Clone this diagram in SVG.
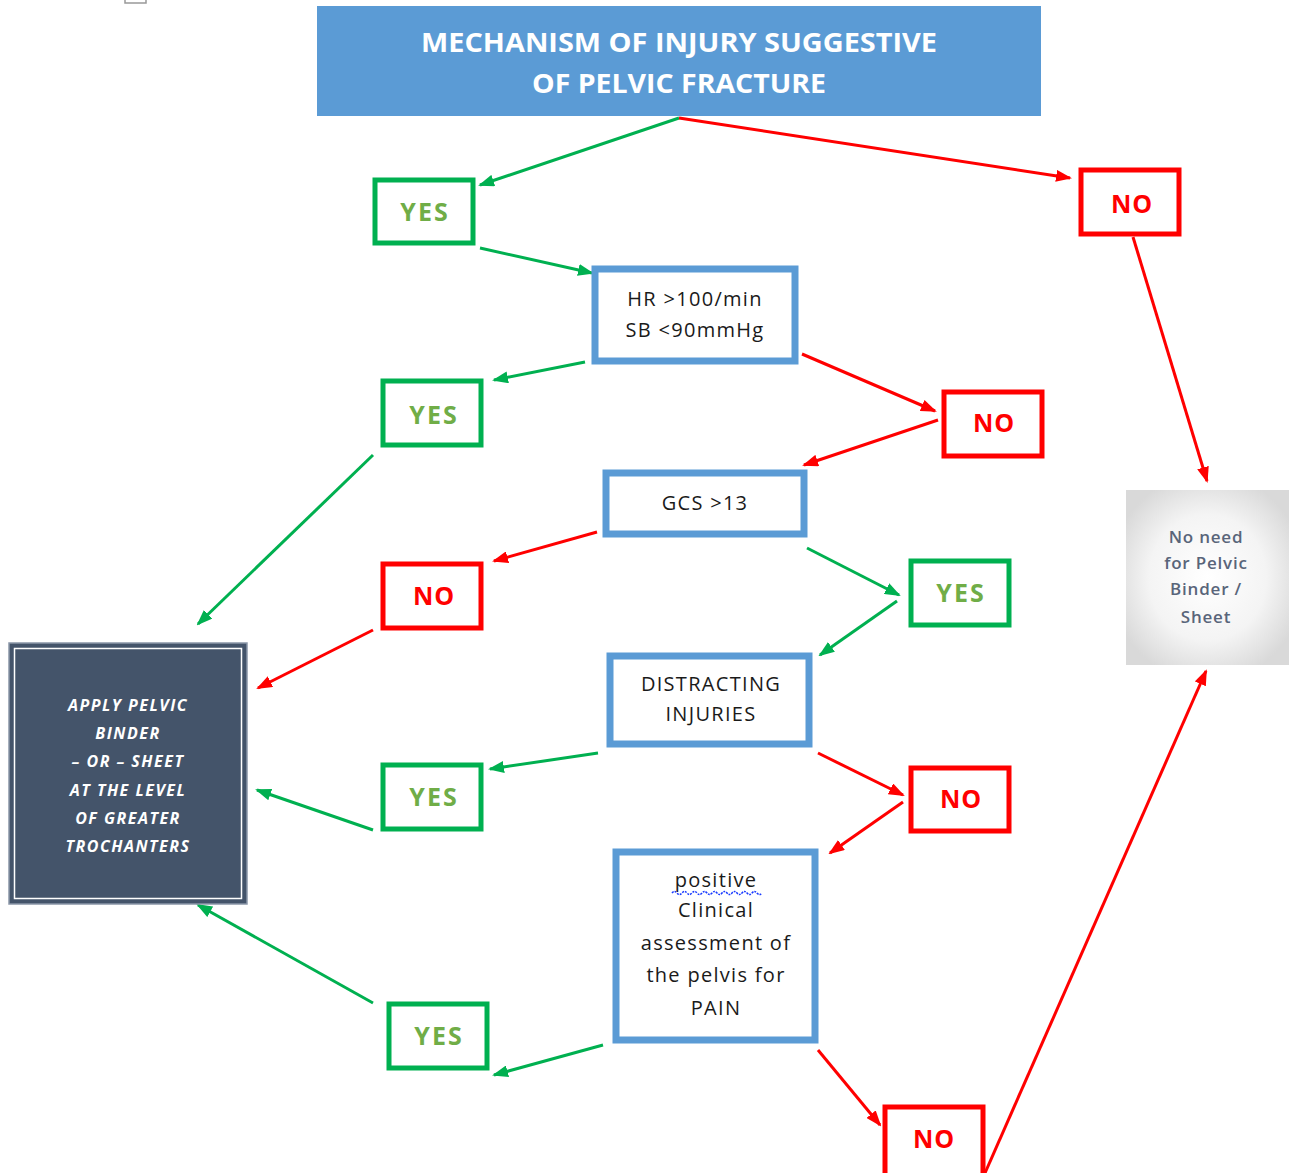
<svg xmlns="http://www.w3.org/2000/svg" width="1295" height="1173" viewBox="0 0 1295 1173">
<style>
text{font-family:"Open Sans","Liberation Sans",sans-serif;text-anchor:middle}
.title{fill:#fff;font-weight:bold;font-size:27px}
.yes rect{fill:#fff;stroke:#00B050;stroke-width:5}
.yes text{fill:#70AD47;font-weight:bold;font-size:25px;letter-spacing:2px}
.no rect{fill:#fff;stroke:#FF0000;stroke-width:5}
.no text{fill:#FF0000;font-weight:bold;font-size:25px;letter-spacing:1px}
.q rect{fill:#fff;stroke:#5B9BD5;stroke-width:7}
.q text{fill:#1a1a1a;font-size:20px;letter-spacing:1.3px}
.apply text{fill:#fff;font-weight:bold;font-style:italic;font-size:16px;letter-spacing:1.5px}
.need text{fill:#59657a;font-size:17px;font-weight:600;letter-spacing:0.8px}
.g{stroke:#00B050;stroke-width:3;fill:none;marker-end:url(#ag)}
.r{stroke:#FF0000;stroke-width:3;fill:none;marker-end:url(#ar)}
</style>
<defs>
<marker id="ag" markerWidth="16" markerHeight="12" refX="14" refY="6" orient="auto" markerUnits="userSpaceOnUse"><path d="M0,0 L16,6 L0,12 Z" fill="#00B050"/></marker>
<marker id="ar" markerWidth="16" markerHeight="12" refX="14" refY="6" orient="auto" markerUnits="userSpaceOnUse"><path d="M0,0 L16,6 L0,12 Z" fill="#FF0000"/></marker>
<radialGradient id="gg" cx="50%" cy="50%" r="60%"><stop offset="0" stop-color="#ffffff"/><stop offset="0.6" stop-color="#f4f4f4"/><stop offset="1" stop-color="#d9d9d9"/></radialGradient>
</defs>
<rect x="0" y="0" width="1295" height="1173" fill="#fff"/>
<rect x="125" y="-4" width="21" height="7" fill="none" stroke="#999" stroke-width="1.5"/>

<g id="connectors">
<line class="g" x1="679" y1="118" x2="480" y2="185"/>
<line class="r" x1="679" y1="118" x2="1070" y2="178"/>
<line class="g" x1="480" y1="248" x2="592" y2="273"/>
<line class="r" x1="1133" y1="237" x2="1207" y2="481"/>
<line class="g" x1="585" y1="362" x2="494" y2="380"/>
<line class="r" x1="802" y1="354" x2="935" y2="411"/>
<line class="g" x1="373" y1="455" x2="198" y2="624"/>
<line class="r" x1="938" y1="420" x2="804" y2="465"/>
<line class="r" x1="597" y1="532" x2="494" y2="561"/>
<line class="g" x1="807" y1="548" x2="899" y2="595"/>
<line class="r" x1="373" y1="630" x2="258" y2="688"/>
<line class="g" x1="897" y1="601" x2="820" y2="655"/>
<line class="g" x1="598" y1="753" x2="490" y2="769"/>
<line class="r" x1="818" y1="753" x2="903" y2="795"/>
<line class="g" x1="373" y1="830" x2="257" y2="790"/>
<line class="r" x1="903" y1="802" x2="830" y2="853"/>
<line class="g" x1="373" y1="1003" x2="198" y2="905"/>
<line class="g" x1="603" y1="1045" x2="494" y2="1075"/>
<line class="r" x1="818" y1="1050" x2="880" y2="1125"/>
<line class="r" x1="985" y1="1173" x2="1206" y2="671"/>
</g>

<g id="title">
<rect x="317" y="6" width="724" height="110" fill="#5B9BD5"/>
<text class="title" x="679" y="52" textLength="516" lengthAdjust="spacingAndGlyphs">MECHANISM OF INJURY SUGGESTIVE</text>
<text class="title" x="679" y="93" textLength="294" lengthAdjust="spacingAndGlyphs">OF PELVIC FRACTURE</text>
</g>

<g id="yes1" class="yes"><rect x="375" y="180" width="98" height="63"/><text x="425" y="221">YES</text></g>
<g id="no1" class="no"><rect x="1081" y="170" width="98" height="64"/><text x="1132" y="213">NO</text></g>

<g id="hr" class="q"><rect x="595" y="269" width="200" height="92"/>
<text x="695" y="306">HR &gt;100/min</text><text x="695" y="337">SB &lt;90mmHg</text></g>

<g id="yes2" class="yes"><rect x="383" y="381" width="98" height="64"/><text x="434" y="424">YES</text></g>
<g id="no2" class="no"><rect x="944" y="392" width="98" height="64"/><text x="994" y="432">NO</text></g>

<g id="gcs" class="q"><rect x="606" y="473" width="198" height="61"/><text x="705" y="510">GCS &gt;13</text></g>

<g id="no3" class="no"><rect x="383" y="564" width="98" height="64"/><text x="434" y="605">NO</text></g>
<g id="yes3" class="yes"><rect x="911" y="561" width="98" height="64"/><text x="961" y="602">YES</text></g>

<g id="distracting" class="q"><rect x="610" y="656" width="199" height="88"/>
<text x="711" y="691">DISTRACTING</text><text x="711" y="721">INJURIES</text></g>

<g id="yes4" class="yes"><rect x="383" y="765" width="98" height="64"/><text x="434" y="806">YES</text></g>
<g id="no4" class="no"><rect x="911" y="768" width="98" height="63"/><text x="961" y="808">NO</text></g>

<g id="clinical" class="q"><rect x="616" y="852" width="199" height="188"/>
<text x="716" y="887">positive</text>
<path d="M672,893 q2.5,-3 5,0 t5,0 t5,0 t5,0 t5,0 t5,0 t5,0 t5,0 t5,0 t5,0 t5,0 t5,0 t5,0 t5,0 t5,0 t5,0 t5,0 t5,0" fill="none" stroke="#1a3cff" stroke-width="1.5" stroke-dasharray="2,1"/>
<text x="716" y="917">Clinical</text>
<text x="716" y="950">assessment of</text>
<text x="716" y="982">the pelvis for</text>
<text x="716" y="1015">PAIN</text></g>

<g id="yes5" class="yes"><rect x="389" y="1004" width="98" height="64"/><text x="439" y="1045">YES</text></g>
<g id="no5" class="no"><rect x="885" y="1107" width="98" height="70"/><text x="934" y="1148">NO</text></g>

<g id="apply" class="apply">
<rect x="9" y="643" width="238" height="261" fill="#44546A" stroke="#8a96a8" stroke-width="1.5"/>
<rect x="14.5" y="648.5" width="227" height="250" fill="none" stroke="#fff" stroke-width="1.5"/>
<text x="128" y="711">APPLY PELVIC</text>
<text x="128" y="739">BINDER</text>
<text x="128" y="767">– OR – SHEET</text>
<text x="128" y="796">AT THE LEVEL</text>
<text x="128" y="824">OF GREATER</text>
<text x="128" y="852">TROCHANTERS</text>
</g>

<g id="noneed" class="need">
<rect x="1126" y="490" width="163" height="175" fill="url(#gg)"/>
<text x="1206" y="543">No need</text>
<text x="1206" y="569">for Pelvic</text>
<text x="1206" y="595">Binder /</text>
<text x="1206" y="623">Sheet</text>
</g>
</svg>
